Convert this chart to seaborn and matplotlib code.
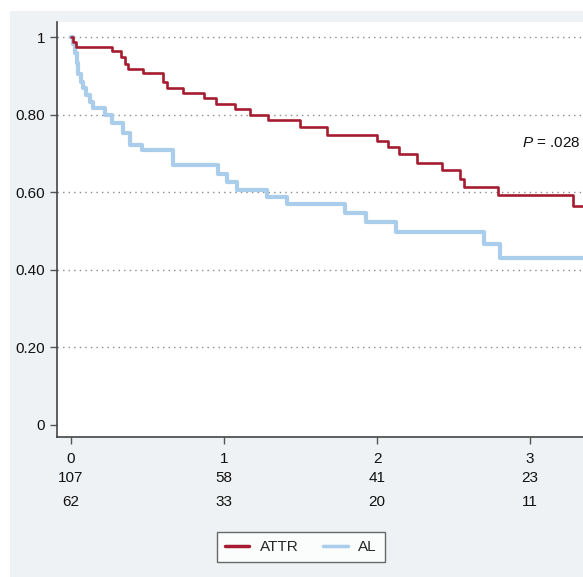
import numpy as np
import pandas as pd
import seaborn as sns
import matplotlib.pyplot as plt
import matplotlib.patches as patches

# survival steps (years, survival)
attr_t = [0, 0.011, 0.033, 0.266, 0.325, 0.353, 0.373, 0.47, 0.60, 0.627, 0.732, 0.869,
          0.948, 1.072, 1.17, 1.29, 1.497, 1.671, 2.0, 2.072, 2.144, 2.259, 2.425, 2.542,
          2.569, 2.79, 3.279, 3.4]
attr_s = [1.0, 0.987, 0.975, 0.963, 0.95, 0.93, 0.917, 0.908, 0.885, 0.870, 0.856, 0.842,
          0.827, 0.815, 0.799, 0.786, 0.769, 0.747, 0.733, 0.716, 0.698, 0.676, 0.657, 0.634,
          0.614, 0.592, 0.564, 0.564]

al_t = [0, 0.011, 0.026, 0.037, 0.048, 0.063, 0.076, 0.098, 0.124, 0.146, 0.222, 0.266,
        0.342, 0.386, 0.462, 0.669, 0.963, 1.018, 1.083, 1.279, 1.414, 1.791, 1.926, 2.124,
        2.699, 2.804, 3.4]
al_s = [1.0, 0.983, 0.958, 0.932, 0.906, 0.885, 0.868, 0.851, 0.833, 0.816, 0.799, 0.778,
        0.752, 0.722, 0.709, 0.670, 0.648, 0.627, 0.606, 0.589, 0.570, 0.547, 0.524, 0.497,
        0.466, 0.430, 0.430]

years = [0, 1, 2, 3]
risk_attr = [107, 58, 41, 23]
risk_al = [62, 33, 20, 11]
yticks = [0, 0.2, 0.4, 0.6, 0.8, 1.0]
ylabels = ['0', '0.20', '0.40', '0.60', '0.80', '1']

red = '#a51c30'
blue = '#a9cdea'

sns.set_style('white')
plt.rcParams['font.family'] = ['Liberation Sans', 'DejaVu Sans']
plt.rcParams['mathtext.fontset'] = 'custom'
plt.rcParams['mathtext.it'] = 'Liberation Sans:italic'
plt.rcParams['mathtext.rm'] = 'Liberation Sans'

fig = plt.figure(figsize=(5.83, 5.77), dpi=100, facecolor='white')
fig.patches.append(patches.Rectangle((10 / 583, 0), 1, 1 - 11 / 577, transform=fig.transFigure,
                                     facecolor='#eff2f4', edgecolor='none', zorder=-10))
ax = fig.add_axes([57 / 583, 1 - 437 / 577, 1 - 57 / 583, (437 - 22) / 577])
ax.set_facecolor('white')

df = pd.concat([
    pd.DataFrame({'t': attr_t, 's': attr_s, 'grp': 'ATTR'}),
    pd.DataFrame({'t': al_t, 's': al_s, 'grp': 'AL'}),
])

for y in yticks[1:]:
    ax.axhline(y, color='#8a8a8a', linestyle=(0, (1, 3)), linewidth=1.0, zorder=0)

sns.lineplot(data=df[df.grp == 'AL'], x='t', y='s', color=blue, linewidth=3.0,
             drawstyle='steps-post', estimator=None, sort=False, ax=ax, label='AL', zorder=2)
sns.lineplot(data=df[df.grp == 'ATTR'], x='t', y='s', color=red, linewidth=1.9,
             drawstyle='steps-post', estimator=None, sort=False, ax=ax, label='ATTR', zorder=3)

ax.set_xlim(-0.0915, 3.346)
ax.set_ylim(-0.031, 1.039)
ax.set_yticks(yticks)
ax.set_yticklabels(ylabels)
ax.set_xticks(years)
ax.set_xticklabels([str(v) for v in years])
ax.set_xlabel('')
ax.set_ylabel('')
for side in ['top', 'right']:
    ax.spines[side].set_visible(False)
for side in ['left', 'bottom']:
    ax.spines[side].set_color('#444444')
    ax.spines[side].set_linewidth(1.2)
ax.tick_params(axis='both', which='both', length=5, width=1, color='#555555',
               labelsize=11, labelcolor='#111111', left=True, bottom=True)
ax.tick_params(axis='x', pad=6)

# numbers at risk
trans = ax.get_xaxis_transform()
for x, a, b in zip(years, risk_attr, risk_al):
    ax.text(x, -0.098, str(a), transform=trans, ha='center', va='center', fontsize=11,
            color='#111111', clip_on=False)
    ax.text(x, -0.156, str(b), transform=trans, ha='center', va='center', fontsize=11,
            color='#111111', clip_on=False)

ax.text(2.95, 0.727, r'$P$ = .028', ha='left', va='center', fontsize=11, color='#111111')

handles, labels = ax.get_legend_handles_labels()
order = [labels.index('ATTR'), labels.index('AL')]
leg = fig.legend([handles[i] for i in order], [labels[i] for i in order],
                 loc='center', bbox_to_anchor=(301 / 583, 1 - 547 / 577), ncol=2,
                 frameon=True, fancybox=False, fontsize=11, handlelength=1.6,
                 columnspacing=1.6, borderpad=0.55, handletextpad=0.7)
leg.get_frame().set_edgecolor('#444444')
leg.get_frame().set_linewidth(1.0)
for ln in leg.get_lines():
    ln.set_linewidth(2.5)
if ax.get_legend() is not None:
    ax.get_legend().remove()

fig.savefig('out.png', dpi=100, facecolor=fig.get_facecolor())
